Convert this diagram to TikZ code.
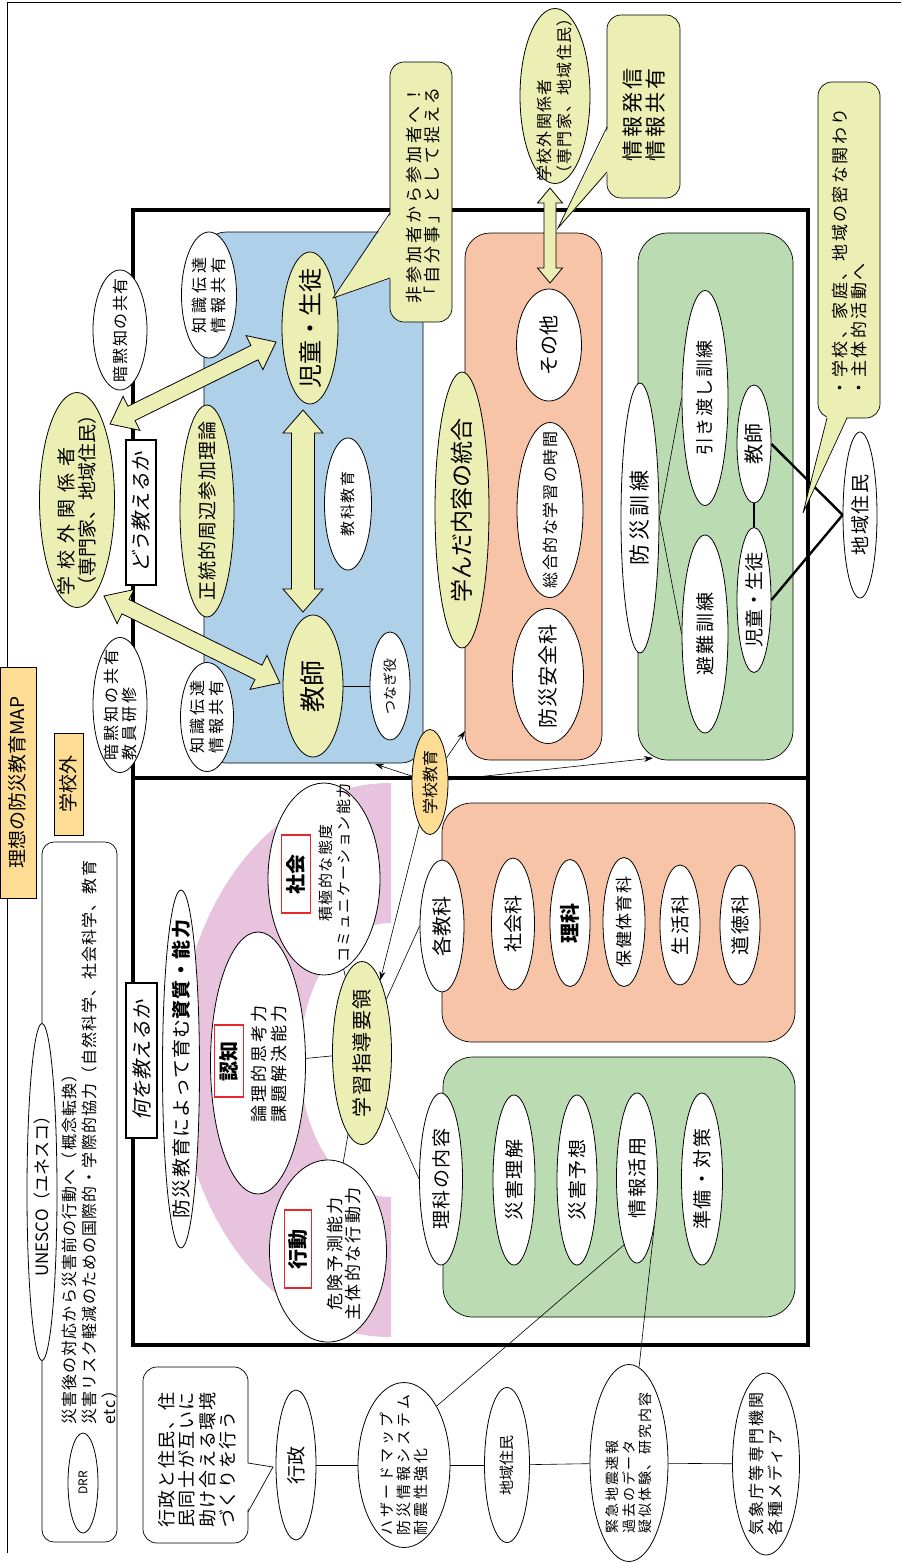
\documentclass[tikz,border=0pt]{standalone}
\usepackage{fontspec}
\setmainfont{Noto Sans CJK JP}
\newfontfamily\slfont{Noto Sans CJK JP}[FakeSlant=0.2]
\usetikzlibrary{calc,arrows.meta,shapes.geometric}
\definecolor{cyel}{HTML}{ECEFB3}
\definecolor{cblue}{HTML}{AFD0E9}
\definecolor{csal}{HTML}{F8C4A7}
\definecolor{cgrn}{HTML}{BBDCB3}
\definecolor{corg}{HTML}{FDDC94}
\definecolor{cpink}{HTML}{E7C3DD}
\definecolor{cred}{HTML}{E8262C}
\newcommand\fz[1]{\fontsize{#1}{\the\numexpr#1*6/5\relax}\selectfont}
\newcommand\fzb[2]{\fontsize{#1}{#2}\selectfont}
\newcommand\ls[1]{\addfontfeature{LetterSpace=#1}}
\tikzset{
 ell/.style={shape=ellipse, draw, line width=0.8pt, inner sep=0pt},
 wh/.style={ell, fill=white},
 ye/.style={ell, fill=cyel},
 og/.style={ell, fill=corg},
 txt/.style={rotate=90, inner sep=0pt, align=center},
 txl/.style={rotate=90, inner sep=0pt, align=left},
 panel/.style={draw, line width=0.7pt, inner sep=0pt},
 redbox/.style={rotate=90, draw=cred, line width=1.6pt, fill=white, inner sep=0pt, font=\fz{20}\bfseries},
 mframe/.style={line width=3.2pt},
 ln/.style={line width=0.6pt},
 lnthick/.style={line width=2.4pt},
 arr/.style={line width=0.6pt, -{Stealth[length=9pt,width=6pt]}},
 barrow/.style={draw, line width=0.8pt, fill=cyel, line join=miter},
 labelbox/.style={draw, line width=2.6pt, fill=white, inner sep=0pt},
}
% ellipse node + rotated text (centered / left aligned)
\newcommand\Ell[8]{\node[#6,minimum width=#4pt,minimum height=#5pt] (#1) at (#2,#3) {};
 \node[txt,font={#7}] (#1-t) at (#1) {#8};}
\newcommand\Elf[8]{\node[#6,minimum width=#4pt,minimum height=#5pt] (#1) at (#2,#3) {};
 \node[txl,font={#7}] (#1-t) at (#1) {#8};}
% double block arrow between two named coordinates
\newcommand\barr[5]{%
 \coordinate (ba1) at ($(#1)!#3!(#2)$);
 \coordinate (ba2) at ($(#2)!#3!(#1)$);
 \draw[barrow] (#1) -- ($(ba1)!#4!90:(#2)$) -- ($(ba1)!#5!90:(#2)$) -- ($(ba2)!#5!-90:(#1)$) -- ($(ba2)!#4!-90:(#1)$) -- (#2) -- ($(ba2)!#4!90:(#1)$) -- ($(ba2)!#5!90:(#1)$) -- ($(ba1)!#5!-90:(#2)$) -- ($(ba1)!#4!-90:(#2)$) -- cycle;}
\begin{document}
\begin{tikzpicture}[x=1pt,y=-1pt]
\useasboundingbox (0,0) rectangle (901,1563);
% outer lines
\draw[line width=0.9pt] (7,2) -- (901,2);
\draw[line width=0.9pt] (7,2) -- (7,1553);
% title and label
\node[panel, fill=corg, minimum width=36pt, minimum height=231pt] (title) at (18,782.5) {};
\node[txt, font=\fz{19}] (title-t) at (17,782.5) {理想の防災教育MAP};
\node[panel, fill=corg, minimum width=29pt, minimum height=102pt] (gai) at (68.5,784) {};
\node[txt, font=\fz{19}] (gai-t) at (gai) {学校外};
% DRR box
\node[panel, fill=white, rounded corners=12pt, minimum width=75pt, minimum height=700pt] (drrbox) at (79.5,1192) {};
\Ell{unesco}{42}{1192}{30}{337}{wh}{\fz{17}}{UNESCO（ユネスコ）}
\node[txl, anchor=north west, font={\fzb{16}{20}\ls{7}}] (drr-t) at (62,1425) {災害後の対応から災害前の行動へ（概念転換）\\災害リスク軽減のための国際的・学際的協力（自然科学、社会科学、教育\\etc）};
\Ell{drr}{83}{1483}{30}{100}{wh}{\fz{12}}{DRR}
% main frame
\draw[mframe] (133,210) rectangle (808,1345);
\draw[mframe] (133,778) -- (808,778);
% pink band
\begin{scope}
\clip (136,781) rectangle (391,1342);
\fill[cpink, even odd rule] (390,1060) ellipse [x radius=212pt, y radius=277pt] (390,1060) ellipse [x radius=90pt, y radius=137pt];
\end{scope}
% panels
\node[panel, fill=cblue, rounded corners=22pt, minimum width=219pt, minimum height=531pt] (blue) at (313.5,497.5) {};
\node[panel, fill=csal, rounded corners=25pt, minimum width=137pt, minimum height=527pt] (salA) at (533.5,496.5) {};
\node[panel, fill=cgrn, rounded corners=30pt, minimum width=155pt, minimum height=527pt] (grnA) at (715.5,496.5) {};
\node[panel, fill=csal, rounded corners=30pt, minimum width=353pt, minimum height=239pt] (salB) at (618.5,922.5) {};
\node[panel, fill=cgrn, rounded corners=30pt, minimum width=352pt, minimum height=260pt] (grnB) at (619,1187) {};
% upper ellipses
\Ell{anmoku1}{120}{330}{54}{120}{wh}{\fz{16}\ls{10}}{暗黙知の共有}
\Elf{anmoku2}{120}{705}{54}{135}{wh}{\fzb{16}{18}\ls{18}}{暗黙知の共有\\教員研修}
\Ell{chishiki1}{209}{295}{55}{126}{wh}{\fzb{16}{19}\ls{25}}{知識伝達\\情報共有}
\Ell{chishiki2}{207}{717}{53}{109}{wh}{\fzb{16}{19}\ls{20}}{知識伝達\\情報共有}
\Elf{gaiA}{77}{500}{75}{215}{ye}{\fzb{19}{21}}{{\ls{35}学校外関係者}\\（専門家、地域住民）}
\node[labelbox, minimum width=30pt, minimum height=145pt] (dou) at (141,512.5) {};
\node[txt, font=\fz{20}\slfont] (dou-t) at (dou) {どう教えるか};
\Ell{seitou}{207}{511}{54}{212}{ye}{\fz{19}\ls{5}}{正統的周辺参加理論}
\Ell{jidou}{310}{328}{56}{152}{ye}{\fz{24}}{児童・生徒}
\Ell{kyoushi}{313}{686}{60}{142}{ye}{\fz{26}}{教師}
\Ell{kyouka}{348}{504}{47}{132}{wh}{\fz{15}\ls{12}}{教科教育}
\Ell{tsunagi}{390}{686}{40}{108}{wh}{\fz{14}}{つなぎ役}
\Elf{gaiB}{555}{96}{70}{175}{ye}{\fzb{16}{20}\ls{8}}{学校外関係者\\（専門家、地域住民）}
\Ell{manda}{462}{510}{54}{276}{ye}{\fz{23}}{学んだ内容の統合}
\Ell{sonota}{549}{345}{65}{112}{wh}{\fz{20}}{その他}
\Ell{sougou}{550}{510}{66}{175}{wh}{\fz{16}\ls{10}}{総合的な学習の時間}
\Ell{anzen}{548}{676}{71}{135}{wh}{\fz{20}\ls{5}}{防災安全科}
\Ell{kunren}{640}{518}{38}{270}{wh}{\fz{21}\ls{18}}{防災訓練}
\Ell{hikiwatashi}{705}{398}{46}{215}{wh}{\fz{18}\ls{8}}{引き渡し訓練}
\Ell{hinan}{705}{634}{46}{198}{wh}{\fz{19}\ls{12}}{避難訓練}
\Ell{kyoushiB}{754}{444}{34}{118}{wh}{\fz{20}\ls{8}}{教師}
\Ell{jidouB}{754}{600}{34}{145}{wh}{\fz{19}}{児童・生徒}
\Ell{chiikiA}{860}{515}{34}{166}{wh}{\fz{19}\ls{10}}{地域住民}
\Ell{gkyouiku}{430}{782}{36}{105}{og}{\fz{16}}{学校教育}
% lower ellipses
\Ell{shishitsu}{181}{1069}{37}{358}{wh}{\fz{19}\ls{6}}{防災教育によって育む{\bfseries 資質・能力}}
\node[labelbox, minimum width=31pt, minimum height=155pt] (nani) at (141.5,1060.5) {};
\node[txt, font=\fz{20}\slfont] (nani-t) at (nani) {何を教えるか};
\node[wh, minimum width=95pt, minimum height=262pt] (ninchi) at (258,1063) {};
\node[redbox, minimum width=72pt, minimum height=29pt] (ninchi-r) at (229,1061) {認知};
\node[txt, font={\fzb{17}{20}\ls{18}}] (ninchi-t) at (269,1064) {論理的思考力\\課題解決能力};
\node[wh, minimum width=112pt, minimum height=192pt] (shakai) at (324,879) {};
\node[redbox, minimum width=78pt, minimum height=29pt] (shakai-r) at (296,874) {社会};
\node[txt, font={\fzb{15}{17.5}\ls{10}}] (shakai-t) at (335,873) {積極的な態度\\コミュニケーション能力};
\node[wh, minimum width=117pt, minimum height=182pt] (koudou) at (328,1251) {};
\node[redbox, minimum width=78pt, minimum height=27pt] (koudou-r) at (298,1249) {行動};
\node[txt, font={\fzb{17}{18.5}\ls{14}}] (koudou-t) at (344,1254) {危険予測能力\\主体的な行動力};
\Ell{gakushu}{362}{1053}{59}{183}{ye}{\fz{20}\ls{8}}{学習指導要領}
\Ell{kakukyouka}{442}{926}{44}{132}{wh}{\fz{20}}{各教科}
\Ell{shakaika}{513}{924}{43}{132}{wh}{\fz{19}}{社会科}
\Ell{rika}{570}{923}{40}{127}{wh}{\fz{20}\bfseries}{理科}
\Ell{hoken}{624}{922}{42}{129}{wh}{\fz{17}\ls{8}}{保健体育科}
\Ell{seikatsu}{680}{925}{40}{120}{wh}{\fz{19}\ls{8}}{生活科}
\Ell{doutoku}{740}{925}{40}{120}{wh}{\fz{19}\ls{8}}{道徳科}
\Ell{rikanaiyou}{441}{1179}{43}{172}{wh}{\fz{19}\ls{8}}{理科の内容}
\Ell{rikai}{514}{1180}{42}{170}{wh}{\fz{19}\ls{8}}{災害理解}
\Ell{yosou}{577}{1180}{40}{170}{wh}{\fz{19}\ls{8}}{災害予想}
\Ell{jouhou}{637}{1178}{41}{170}{wh}{\fz{19}\ls{8}}{情報活用}
\Ell{junbi}{702}{1179}{41}{172}{wh}{\fz{19}\ls{8}}{準備・対策}
% bottom row
\Ell{gyousei}{296}{1465}{40}{150}{wh}{\fz{19}}{行政}
\Elf{hazard}{404}{1465}{92}{165}{wh}{\fzb{15}{17}\ls{20}}{ハザードマップ\\防災情報システム\\耐震性強化}
\Ell{chiikiB}{507}{1465}{45}{155}{wh}{\fz{15}}{地域住民}
\Elf{kinkyu}{629}{1463}{78}{197}{wh}{\fzb{14}{16.5}\ls{14}}{緊急地震速報\\過去のデータ\\疑似体験、研究内容}
\Elf{kishou}{766}{1464}{67}{182}{wh}{\fzb{16}{19}\ls{14}}{気象庁等専門機関\\各種メディア}
% connectors
\draw[ln] (kyoushi) -- (tsunagi);
\draw[ln] (kunren.east) -- (hikiwatashi.west);
\draw[ln] (kunren.east) -- (hinan.west);
\draw[lnthick] (kyoushiB) -- (jidouB);
\draw[lnthick] (kyoushiB.east) -- (chiikiA.west);
\draw[lnthick] (jidouB.east) -- (chiikiA.west);
\draw[ln] (gakushu) -- (kakukyouka.west);
\draw[ln] (gakushu) -- (rikanaiyou.west);
\draw[ln] (gakushu) -- (shakai);
\draw[ln] (gakushu) -- (ninchi);
\draw[ln] (gakushu) -- (koudou);
\draw[ln] (gyousei) -- (hazard);
\draw[ln] (hazard) -- (chiikiB);
\draw[ln] (chiikiB) -- (kinkyu);
\draw[ln] (kinkyu) -- (kishou);
\draw[ln] (hazard.61) -- (jouhou.-101);
\draw[ln] (kinkyu.84) -- (jouhou.-70);
\coordinate (tipBlue) at (375,764);
\coordinate (tipPink) at (465,731);
\coordinate (tipGreen) at (653,758);
\draw[arr] (gkyouiku) -- (tipBlue);
\draw[arr] (gkyouiku) -- (tipPink);
\draw[arr] (gkyouiku) -- (tipGreen);
\draw[arr] (gkyouiku) -- (gakushu);
% block arrows
\coordinate (a1s) at (110,424); \coordinate (a1e) at (276,342);
\barr{a1s}{a1e}{24pt}{19pt}{8pt}
\coordinate (a2s) at (104,596); \coordinate (a2e) at (280,683);
\barr{a2s}{a2e}{24pt}{19pt}{8pt}
\coordinate (a3s) at (303,410); \coordinate (a3e) at (303,612);
\barr{a3s}{a3e}{23pt}{20pt}{11.5pt}
\coordinate (a4s) at (550,188); \coordinate (a4e) at (550,283);
\barr{a4s}{a4e}{15pt}{12.5pt}{6pt}
% callouts
\node[panel, fill=cyel, rounded corners=14pt, minimum width=62pt, minimum height=260pt] (hisanka) at (421,192) {};
\fill[cyel] (392,213) -- (333,298) -- (392,278) -- cycle;
\draw[line width=0.7pt] (390,213) -- (333,298) -- (390,278);
\node[txl, anchor=north west, font={\fzb{17}{18.5}\ls{18}}] (hisanka-t) at (406,304) {非参加者から参加者へ！\\「自分事」として捉える};
\node[panel, fill=cyel, rounded corners=14pt, minimum width=73pt, minimum height=183pt] (hasshin) at (643.5,106.5) {};
\fill[cyel] (609,127) -- (558,228) -- (609,172) -- cycle;
\draw[line width=0.7pt] (607,127) -- (558,228) -- (607,172);
\node[txt, font={\fzb{21}{22.5}\ls{14}}] (hasshin-t) at (644,115) {情報発信\\情報共有};
\node[panel, fill=cyel, rounded corners=14pt, minimum width=62pt, minimum height=336pt] (mitsu) at (849,250) {};
\fill[cyel] (827,416) -- (803,513) -- (847,416) -- cycle;
\draw[line width=0.7pt] (827,418) -- (803,513) -- (847,418);
\node[txl, anchor=north west, font={\fzb{17}{18.5}\ls{14}}] (mitsu-t) at (832,397) {・学校、家庭、地域の密な関わり\\・主体的活動へ};
\node[panel, fill=white, rounded corners=14pt, minimum width=105pt, minimum height=176pt] (gcall) at (195.5,1455) {};
\fill[white] (246,1463) -- (273,1467) -- (246,1512) -- cycle;
\draw[line width=0.7pt] (248,1463) -- (273,1467) -- (248,1512);
\node[txl, anchor=north west, font={\fzb{18}{20.5}\ls{9}}] (gcall-t) at (158,1528) {行政と住民、住\\民同士が互いに\\助け合える環境\\づくりを行う};
\end{tikzpicture}
\end{document}
